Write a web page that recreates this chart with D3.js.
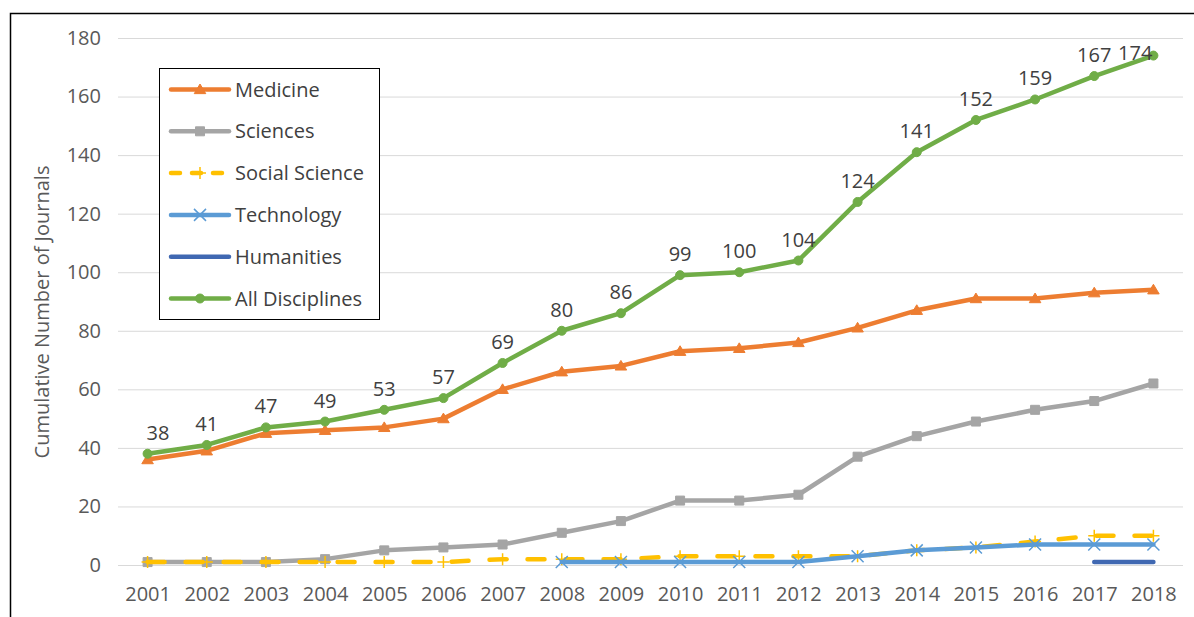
<!DOCTYPE html>
<html>
<head>
<meta charset="utf-8">
<script src="https://cdn.jsdelivr.net/npm/d3@7"></script>
<style>
    body { margin: 0; background: #fff; }
    text { font-family: 'Open Sans', Lato, sans-serif; }
</style>
</head>
<body>
<script>
// data
var years = ['2001', '2002', '2003', '2004', '2005', '2006', '2007', '2008', '2009',
    '2010', '2011', '2012', '2013', '2014', '2015', '2016', '2017', '2018'];
var medicine = [36, 39, 45, 46, 47, 50, 60, 66, 68, 73, 74, 76, 81, 87, 91, 91, 93, 94];
var sciences = [1, 1, 1, 2, 5, 6, 7, 11, 15, 22, 22, 24, 37, 44, 49, 53, 56, 62];
var socialScience = [1, 1, 1, 1, 1, 1, 2, 2, 2, 3, 3, 3, 3, 5, 6, 8, 10, 10];
var technology = [null, null, null, null, null, null, null, 1, 1, 1, 1, 1, 3, 5, 6, 7, 7, 7];
var humanities = [null, null, null, null, null, null, null, null, null, null, null, null, null, null, null, null, 1, 1];
var allDisciplines = [38, 41, 47, 49, 53, 57, 69, 80, 86, 99, 100, 104, 124, 141, 152, 159, 167, 174];
var yTicks = [0, 20, 40, 60, 80, 100, 120, 140, 160, 180];
var yTitle = 'Cumulative Number of Journals';

// series in drawing order (also legend order)
var series = [
    {name: 'Medicine', values: medicine},
    {name: 'Sciences', values: sciences},
    {name: 'Social Science', values: socialScience},
    {name: 'Technology', values: technology},
    {name: 'Humanities', values: humanities},
    {name: 'All  Disciplines', values: allDisciplines}
];

// look of every series
var styles = {
    'Medicine': {color: '#ED7D31', marker: 'triangle'},
    'Sciences': {color: '#A5A5A5', marker: 'square'},
    'Social Science': {color: '#FFC000', marker: 'plus', dash: '17,21'},
    'Technology': {color: '#5B9BD5', marker: 'x'},
    'Humanities': {color: '#4068B2', marker: null},
    'All  Disciplines': {color: '#70AD47', marker: 'circle'}
};

var width = 1194, height = 617;
var plot = {left: 118, right: 1183, top: 38, bottom: 565};
var fontSize = '20px';

var svg = d3.select('body').append('svg')
    .attr('width', width)
    .attr('height', height);

// frame of the picture (top and left edges only, the rest is cut off)
svg.append('path')
    .attr('d', 'M10.5,' + height + 'V13.5H' + width)
    .attr('fill', 'none')
    .attr('stroke', '#000')
    .attr('stroke-width', 1.5);

var x = d3.scalePoint()
    .domain(years)
    .range([plot.left, plot.right])
    .padding(0.5);

var y = d3.scaleLinear()
    .domain([0, 180])
    .range([plot.bottom, plot.top]);

// y axis with gridlines
var yAxis = svg.append('g')
    .attr('transform', 'translate(' + plot.left + ',0)')
    .call(d3.axisLeft(y).tickValues(yTicks).tickSize(-(plot.right - plot.left)).tickPadding(17));
yAxis.select('.domain').remove();
yAxis.selectAll('line').attr('stroke', '#D9D9D9').attr('stroke-width', 1);
yAxis.selectAll('text')
    .attr('fill', '#595959')
    .style('font-size', fontSize);

// x axis
var xAxis = svg.append('g')
    .attr('transform', 'translate(0,' + plot.bottom + ')')
    .call(d3.axisBottom(x).tickSize(0).tickPadding(22));
xAxis.select('.domain').remove();
xAxis.selectAll('text')
    .attr('fill', '#595959')
    .style('font-size', fontSize);

svg.append('text')
    .attr('transform', 'translate(49,312) rotate(-90)')
    .attr('text-anchor', 'middle')
    .attr('fill', '#595959')
    .style('font-size', fontSize)
    .text(yTitle);

// marker shapes
function markerPath(type, s) {
    if (type === 'triangle') return 'M0,' + (-s) + 'L' + (s * 1.05) + ',' + (s * 0.75) + 'H' + (-s * 1.05) + 'Z';
    if (type === 'square') return 'M' + (-s) + ',' + (-s) + 'H' + s + 'V' + s + 'H' + (-s) + 'Z';
    if (type === 'circle') return d3.symbol().type(d3.symbolCircle).size(Math.PI * s * s)();
    if (type === 'plus') return 'M' + (-s) + ',0H' + s + 'M0,' + (-s) + 'V' + s;
    if (type === 'x') return 'M' + (-s) + ',' + (-s) + 'L' + s + ',' + s + 'M' + s + ',' + (-s) + 'L' + (-s) + ',' + s;
    return null;
}

function drawMarker(sel, type, color) {
    var stroked = (type === 'plus' || type === 'x');
    var size = {triangle: 5.5, square: 4.5, circle: 4.5, plus: 6, x: 6}[type];
    sel.append('path')
        .attr('d', markerPath(type, size))
        .attr('fill', stroked ? 'none' : color)
        .attr('stroke', color)
        .attr('stroke-width', stroked ? 1.5 : 1);
}

var line = d3.line()
    .defined(function (d) { return d != null; })
    .x(function (d, i) { return x(years[i]); })
    .y(function (d) { return y(d); });

series.forEach(function (s) {
    var st = styles[s.name];
    var g = svg.append('g');
    g.append('path')
        .attr('d', line(s.values))
        .attr('fill', 'none')
        .attr('stroke', st.color)
        .attr('stroke-width', 4.5)
        .attr('stroke-linejoin', 'round')
        .attr('stroke-linecap', 'round')
        .attr('stroke-dasharray', st.dash || null);
    if (st.marker) {
        s.values.forEach(function (v, i) {
            if (v == null) return;
            var m = g.append('g').attr('transform', 'translate(' + x(years[i]) + ',' + y(v) + ')');
            drawMarker(m, st.marker, st.color);
        });
    }
});

// data labels for all disciplines
var last = allDisciplines.length - 1;
svg.append('g').selectAll('text')
    .data(allDisciplines)
    .enter().append('text')
    .attr('x', function (d, i) {
        var px = x(years[i]);
        return i === 0 ? px - 1 : i === last ? px - 1 : px;
    })
    .attr('y', function (d, i) {
        return i === last ? y(d) + 4 : y(d) - 14;
    })
    .attr('text-anchor', function (d, i) {
        return i === 0 ? 'start' : i === last ? 'end' : 'middle';
    })
    .attr('fill', '#404040')
    .style('font-size', fontSize)
    .text(function (d) { return d; });

// legend
var legend = svg.append('g');
legend.append('rect')
    .attr('x', 159.5).attr('y', 68.5)
    .attr('width', 220).attr('height', 251)
    .attr('fill', '#fff')
    .attr('stroke', '#000')
    .attr('stroke-width', 1);

var item = legend.selectAll('.item')
    .data(series)
    .enter().append('g')
    .attr('class', 'item')
    .attr('transform', function (d, i) { return 'translate(0,' + (89.5 + i * 41.8) + ')'; });

item.append('line')
    .attr('x1', 171).attr('x2', 229)
    .attr('stroke', function (d) { return styles[d.name].color; })
    .attr('stroke-width', 4.5)
    .attr('stroke-linecap', 'round')
    .attr('stroke-dasharray', function (d) { return styles[d.name].dash ? '9,12' : null; });

item.each(function (d) {
    var st = styles[d.name];
    if (st.marker) {
        drawMarker(d3.select(this).append('g').attr('transform', 'translate(200,0)'), st.marker, st.color);
    }
});

item.append('text')
    .attr('x', 235)
    .attr('dy', '0.35em')
    .attr('fill', '#404040')
    .style('font-size', fontSize)
    .text(function (d) { return d.name; });
</script>
</body>
</html>
